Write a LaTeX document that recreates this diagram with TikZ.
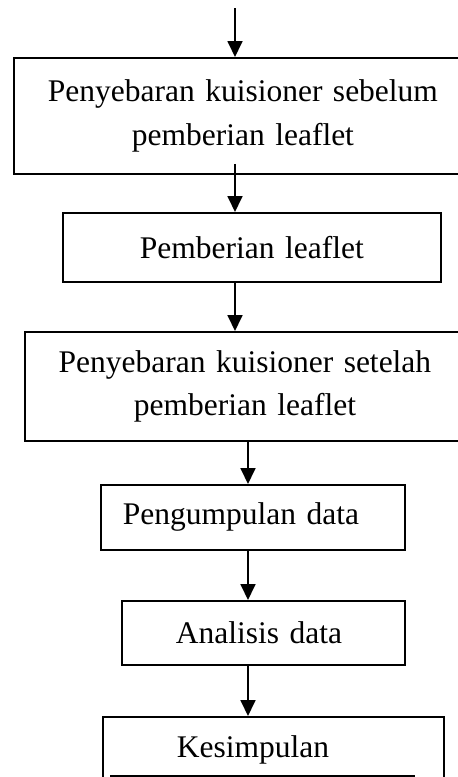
\documentclass[tikz,border=0pt]{standalone}
\usepackage{fontspec}
\setmainfont{Liberation Serif}
\usetikzlibrary{arrows.meta}

\begin{document}
\begin{tikzpicture}[x=1pt, y=-1pt]
                \tikzset{stage/.style = {draw, line width=1.8pt, anchor=north west, inner ysep=0pt,
                                         font=\fontsize{31.5}{43.5}\selectfont}}
                \tikzset{flow/.style = {line width=1.8pt, -{Triangle[width=15pt, length=16pt]}}}
                \useasboundingbox (0, 0) rectangle (458, 777);
                \clip (0, 0) rectangle (458, 777);
                \node[stage, align=center, inner xsep=19pt, text width=420pt, minimum width=458pt, minimum height=116pt]
                    (sebelum) at (13, 57) {Penyebaran kuisioner sebelum\\pemberian leaflet};
                \node[stage, align=center, inner xsep=19pt, text width=340pt, minimum width=378pt, minimum height=69pt]
                    (leaflet) at (62, 212) {Pemberian leaflet};
                \node[stage, align=center, inner xsep=20pt, text width=400pt, minimum width=440pt, minimum height=109pt]
                    (setelah) at (24, 331) {Penyebaran kuisioner setelah\\pemberian leaflet};
                \node[stage, align=left, inner xsep=22pt, text width=260pt, minimum width=304pt, minimum height=65pt]
                    (kumpul) at (100, 484) {Pengumpulan data};
                \node[stage, align=left, inner xsep=54pt, text width=175pt, minimum width=283pt, minimum height=64pt]
                    (analisis) at (121, 600) {Analisis data};
                \node[stage, align=left, inner xsep=74pt, text width=193pt, minimum width=341pt, minimum height=67pt]
                    (simpul) at (102, 716) {Kesimpulan};
                \coordinate (entry) at (235, 8);
                \coordinate (upper) at (235, 0);
                \coordinate (lower) at (248, 0);
                \draw[flow] (entry) -- (entry |- sebelum.north);
                \draw[flow] ([yshift=11pt]sebelum.south -| upper) -- (leaflet.north -| upper);
                \draw[flow] (leaflet.south -| upper) -- (setelah.north -| upper);
                \draw[flow] (setelah.south -| lower) -- (kumpul.north -| lower);
                \draw[flow] (kumpul.south -| lower) -- (analisis.north -| lower);
                \draw[flow] (analisis.south -| lower) -- (simpul.north -| lower);
                \draw[line width=1.8pt] (110, 776) -- (415, 776);
            \end{tikzpicture}
\end{document}
